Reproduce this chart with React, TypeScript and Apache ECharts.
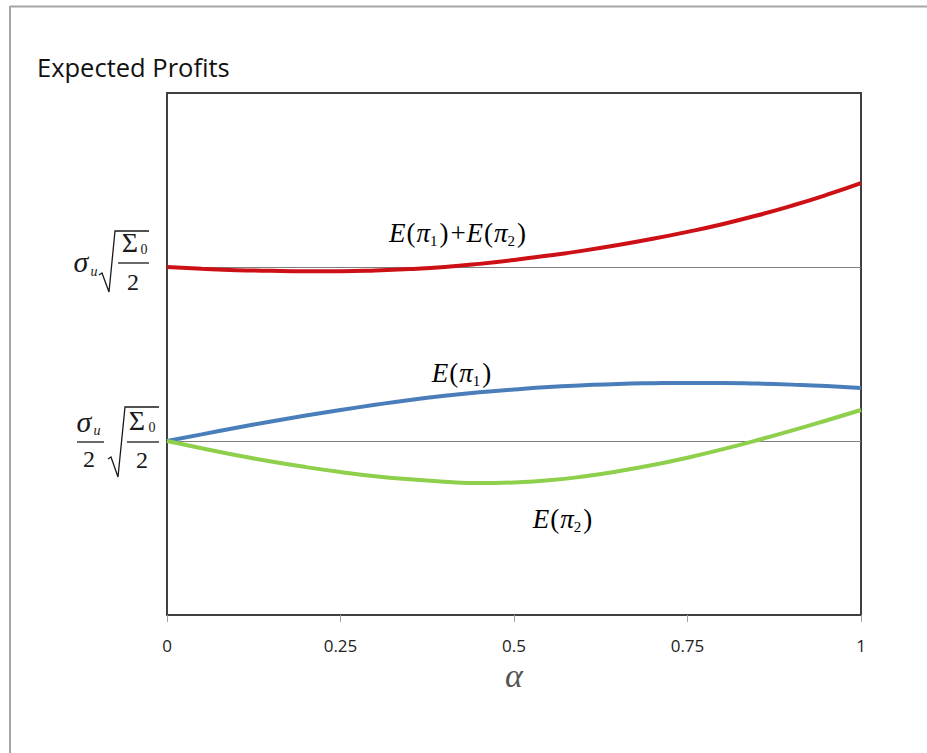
import React, { useEffect, useRef } from "react";
import * as echarts from "echarts";

// Share of informed trading alpha on the horizontal axis
const alpha = [
  0, 0.05, 0.1, 0.15, 0.2, 0.25, 0.3, 0.35, 0.4, 0.45, 0.5,
  0.55, 0.6, 0.65, 0.7, 0.75, 0.8, 0.85, 0.9, 0.95, 1,
];
// Expected profits, in units of sigma_u * sqrt(Sigma_0 / 2)
const totalProfit = [
  1.0, 0.995, 0.991, 0.989, 0.988, 0.988, 0.99, 0.994, 1.0, 1.009, 1.02,
  1.033, 1.047, 1.063, 1.081, 1.101, 1.123, 1.148, 1.176, 1.207, 1.241,
];
const profit1 = [
  0.5, 0.519, 0.538, 0.556, 0.573, 0.589, 0.604, 0.618, 0.63, 0.64, 0.648,
  0.655, 0.66, 0.664, 0.666, 0.667, 0.667, 0.665, 0.662, 0.658, 0.652,
];
const profit2 = [
  0.5, 0.479, 0.459, 0.441, 0.425, 0.411, 0.399, 0.39, 0.383, 0.379, 0.381,
  0.387, 0.398, 0.413, 0.431, 0.452, 0.476, 0.502, 0.53, 0.559, 0.589,
];

const xTicks = [0, 0.25, 0.5, 0.75, 1];
const xTickLabels = ["0", "0.25", "0.5", "0.75", "1"];
// Reference levels: sigma_u/2 * sqrt(Sigma_0/2) and sigma_u * sqrt(Sigma_0/2)
const yRefLevels = [0.5, 1.0];

const INK = "#1a1a1a";
const SERIF = "Liberation Serif";

// zrender centres text on the em box; shift from a baseline to that centre
const mid = (baseline: number, size: number) => baseline - 0.34 * size;

function txt(x: number, baseline: number, s: string, size: number, italic = false, align = "center") {
  return {
    type: "text",
    x,
    y: mid(baseline, size),
    silent: true,
    style: {
      text: s,
      fontFamily: SERIF,
      fontStyle: italic ? "italic" : "normal",
      fontSize: size,
      fill: INK,
      align,
      verticalAlign: "middle",
    },
  };
}

function bar(x1: number, x2: number, y: number) {
  return {
    type: "line",
    silent: true,
    shape: { x1, y1: y, x2, y2: y },
    style: { stroke: INK, lineWidth: 1.3 },
  };
}

function radical(pts: number[][]) {
  return {
    type: "polyline",
    silent: true,
    shape: { points: pts },
    style: { stroke: INK, lineWidth: 1.3, fill: null },
  };
}

// sigma_u * sqrt(Sigma_0 / 2)
function upperLabel(y: number) {
  return [
    txt(81, y + 5, "σ", 30, true),
    txt(94, y + 9, "u", 14, true),
    radical([[99, y + 8], [102, y + 6], [109, y + 25], [115, y - 36], [149, y - 36]]),
    txt(130, y - 15, "Σ", 28),
    txt(144, y - 13, "0", 14),
    bar(118, 149, y - 4),
    txt(133, y + 23, "2", 24),
  ];
}

// sigma_u / 2 * sqrt(Sigma_0 / 2)
function lowerLabel(y: number) {
  return [
    txt(84, y - 9, "σ", 30, true),
    txt(97, y - 6, "u", 14, true),
    bar(77, 104, y + 1),
    txt(89, y + 26, "2", 24),
    radical([[108, y + 18], [111, y + 16], [118, y + 36], [125, y - 34], [159, y - 34]]),
    txt(137, y - 11, "Σ", 28),
    txt(152, y - 9, "0", 14),
    bar(127, 159, y + 1),
    txt(142, y + 27, "2", 24),
  ];
}

const mathRich = {
  it: { fontFamily: SERIF, fontStyle: "italic", fontSize: 27, lineHeight: 30, color: INK },
  rm: { fontFamily: SERIF, fontSize: 27, lineHeight: 30, color: INK, padding: [0, 1] },
  sub: {
    fontFamily: SERIF,
    fontSize: 15,
    lineHeight: 15,
    color: INK,
    verticalAlign: "bottom",
    padding: [0, 1, 0, 0],
  },
};

function mathText(x: number, y: number, s: string) {
  return {
    type: "text",
    x,
    y,
    silent: true,
    style: { text: s, rich: mathRich, align: "center", verticalAlign: "middle" },
  };
}

export default function App() {
  const ref = useRef<HTMLDivElement>(null);

  useEffect(() => {
    if (!ref.current) return;
    const chart = echarts.init(ref.current, null, { renderer: "svg" });

    const line = (name: string, values: number[], color: string, extra: any = {}) => ({
      name,
      type: "line",
      data: alpha.map((a, i) => [a, values[i]]),
      smooth: 0.5,
      showSymbol: false,
      symbol: "none",
      lineStyle: { color, width: 4 },
      z: 3,
      ...extra,
    });

    chart.setOption({
      animation: false,
      backgroundColor: "#ffffff",
      grid: {
        left: 167,
        top: 93,
        width: 694,
        height: 522,
        show: true,
        borderColor: "#404040",
        borderWidth: 2,
        backgroundColor: "transparent",
      },
      xAxis: {
        type: "value",
        min: 0,
        max: 1,
        interval: 0.25,
        axisLine: { show: false },
        axisTick: { show: true, length: 7, lineStyle: { color: "#a0a0a0", width: 1 } },
        splitLine: { show: false },
        axisLabel: {
          margin: 22,
          fontFamily: "Open Sans",
          fontSize: 17,
          color: "#222222",
          formatter: (v: number) => {
            const i = xTicks.findIndex((t) => Math.abs(t - v) < 1e-9);
            return i >= 0 ? xTickLabels[i] : "";
          },
        },
        name: "α",
        nameLocation: "middle",
        nameGap: 36,
        nameTextStyle: { fontFamily: SERIF, fontStyle: "italic", fontSize: 34, color: "#555555" },
      },
      yAxis: {
        type: "value",
        min: 0,
        max: 1.5,
        interval: 0.5,
        axisLine: { show: false },
        axisTick: { show: false },
        axisLabel: { show: false },
        splitLine: { show: false },
      },
      series: [
        line("E(π1)+E(π2)", totalProfit, "#cc1016", {
          markLine: {
            silent: true,
            symbol: ["none", "none"],
            label: { show: false },
            lineStyle: { color: "#7f7f7f", width: 1, type: "solid" },
            emphasis: { disabled: true },
            z: 2,
            data: yRefLevels.map((v) => ({ yAxis: v })),
          },
        }),
        line("E(π1)", profit1, "#4a7ebb"),
        line("E(π2)", profit2, "#8ecf4c"),
      ],
    });

    const yUpper = chart.convertToPixel({ yAxisIndex: 0 }, yRefLevels[1]) as number;
    const yLower = chart.convertToPixel({ yAxisIndex: 0 }, yRefLevels[0]) as number;

    chart.setOption({
      graphic: [
        {
          type: "line",
          silent: true,
          shape: { x1: 10, y1: 6.5, x2: 927, y2: 6.5 },
          style: { stroke: "#a6a6a6", lineWidth: 2 },
        },
        {
          type: "line",
          silent: true,
          shape: { x1: 10, y1: 6, x2: 10, y2: 753 },
          style: { stroke: "#a6a6a6", lineWidth: 2 },
        },
        {
          type: "text",
          x: 37,
          y: 67,
          silent: true,
          style: {
            text: "Expected Profits",
            fontFamily: "Open Sans",
            fontSize: 25.5,
            fill: "#111111",
            align: "left",
            verticalAlign: "middle",
          },
        },
        ...upperLabel(yUpper),
        ...lowerLabel(yLower),
        mathText(458, 233, "{it|E}{rm|(}{it|π}{sub|1}{rm|)}{rm|+}{it|E}{rm|(}{it|π}{sub|2}{rm|)}"),
        mathText(462, 373, "{it|E}{rm|(}{it|π}{sub|1}{rm|)}"),
        mathText(563, 519, "{it|E}{rm|(}{it|π}{sub|2}{rm|)}"),
      ],
    });

    return () => chart.dispose();
  }, []);

  return (
    <div
      ref={ref}
      style={{ position: "fixed", left: 0, top: 0, width: 927, height: 753 }}
    />
  );
}
